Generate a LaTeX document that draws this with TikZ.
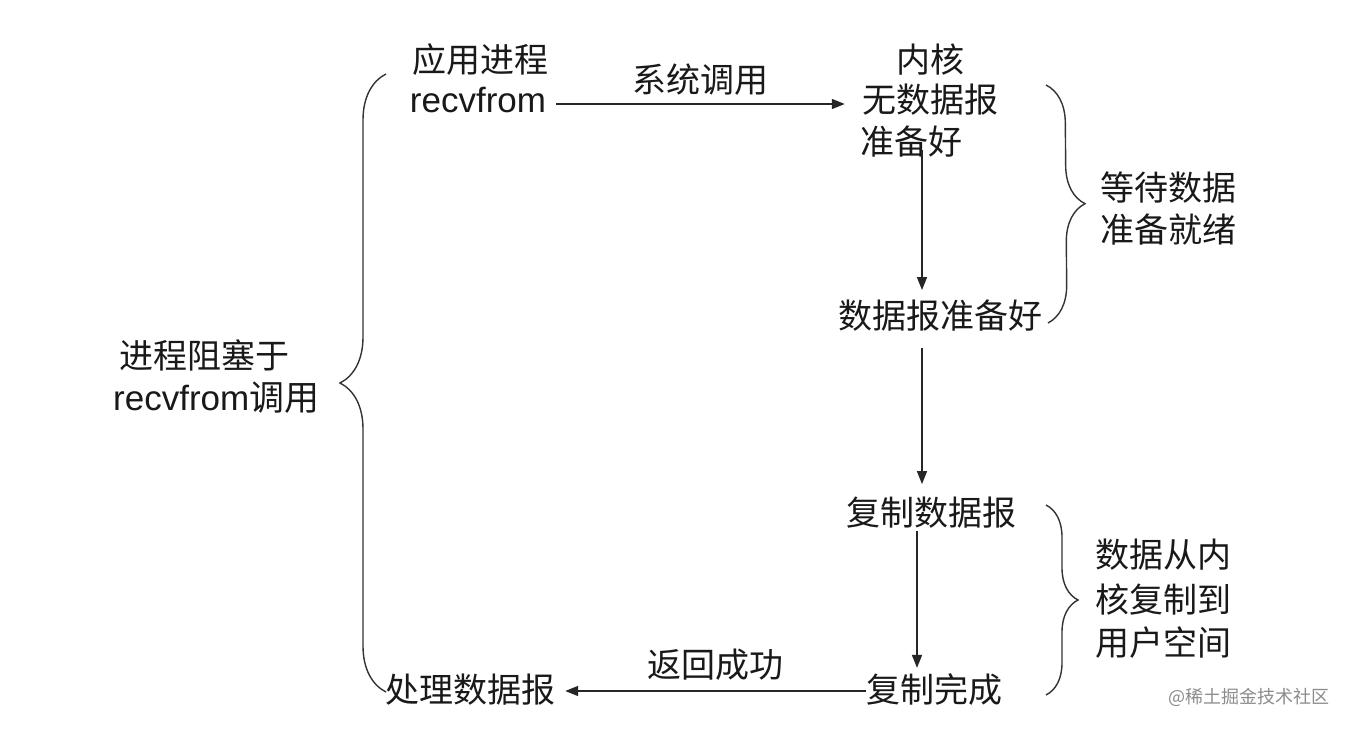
\documentclass[tikz,border=0pt]{standalone}
\usepackage{fontspec}
\setmainfont{Liberation Sans}
\newfontfamily\cjk{Noto Sans CJK SC}
\usetikzlibrary{arrows.meta,decorations.pathreplacing}
\begin{document}
\begin{tikzpicture}[x=1pt,y=1pt,
  txt/.style={inner sep=0pt,text=black!90,font=\cjk\fontsize{34}{40}\selectfont},
  lat/.style={inner sep=0pt,text=black!90,font=\fontsize{35}{40}\selectfont},
  arr/.style={draw=black!85,line width=1.5pt,-{Triangle[length=13pt,width=10pt]}},
  brc/.style={draw=black!80,line width=1.4pt,decorate},
  wm/.style={inner sep=0pt,text=black!45,font=\cjk\fontsize{18}{20}\selectfont}]
\useasboundingbox[fill=white] (0,0) rectangle (1350,-730);
% left column
\node[txt] (appA) at (480,-60) {应用进程};
\node[lat] (recv) at (478,-100) {recvfrom};
\node[txt] (proc) at (470,-690) {处理数据报};
% kernel column
\node[txt] (k1) at (930,-60) {内核};
\node[txt] (k2) at (930,-100) {无数据报};
\node[txt,anchor=west] (k3) at (860,-142) {准备好};
\node[txt] (r1) at (940,-316) {数据报准备好};
\node[txt] (c1) at (931,-513) {复制数据报};
\node[txt] (c2) at (934,-690) {复制完成};
\coordinate (colA) at (922,0);
\coordinate (colB) at (917,0);
% arrows
\path ([xshift=10pt,yshift=-4pt]recv.east) coordinate (s1);
\path ([xshift=-17pt]k2.west) coordinate (e1);
\draw[arr] (s1) -- (s1 -| e1)
  node[midway,above=8pt,txt] (sys) {系统调用};
\draw[arr] ([yshift=8pt]k3.south -| colA) -- ([yshift=10pt]r1.north -| colA);
\draw[arr] ([yshift=-16pt]r1.south -| colA) -- ([yshift=13pt]c1.north -| colA);
\draw[arr] ([yshift=-2pt]c1.south -| colB) -- ([yshift=6pt]c2.north -| colB);
\path ([yshift=-1pt]c2.west) coordinate (s2);
\path ([xshift=10pt]proc.east) coordinate (e2);
\draw[arr] (s2) -- (s2 -| e2)
  node[midway,above=10pt,txt] (ret) {返回成功};
% braces
\coordinate (b1s) at (1046,-85);
\coordinate (b1e) at (1048,-323);
\draw[brc,decoration={brace,amplitude=38pt}] (b1s) -- (b1e);
\node[txt] (w1) at (1168,-188) {等待数据};
\node[txt] (w2) at (1168,-230) {准备就绪};
\coordinate (b2s) at (1046,-505);
\coordinate (b2e) at (1046,-695);
\draw[brc,decoration={brace,amplitude=32pt}] (b2s) -- (b2e);
\node[txt] (d1) at (1163,-555) {数据从内};
\node[txt] (d2) at (1163,-600) {核复制到};
\node[txt] (d3) at (1163,-643) {用户空间};
\coordinate (b3s) at (386,-692);
\coordinate (b3e) at (386,-74);
\draw[brc,decoration={brace,amplitude=46pt,aspect=0.5}] (b3s) -- (b3e);
\node[txt] (L1) at (204,-355) {进程阻塞于};
\node[lat,anchor=base west] (L2) at (113,-410) {recvfrom\cjk 调用};
% watermark
\node[wm] (wmk) at (1249,-697) {@稀土掘金技术社区};
\end{tikzpicture}
\end{document}
